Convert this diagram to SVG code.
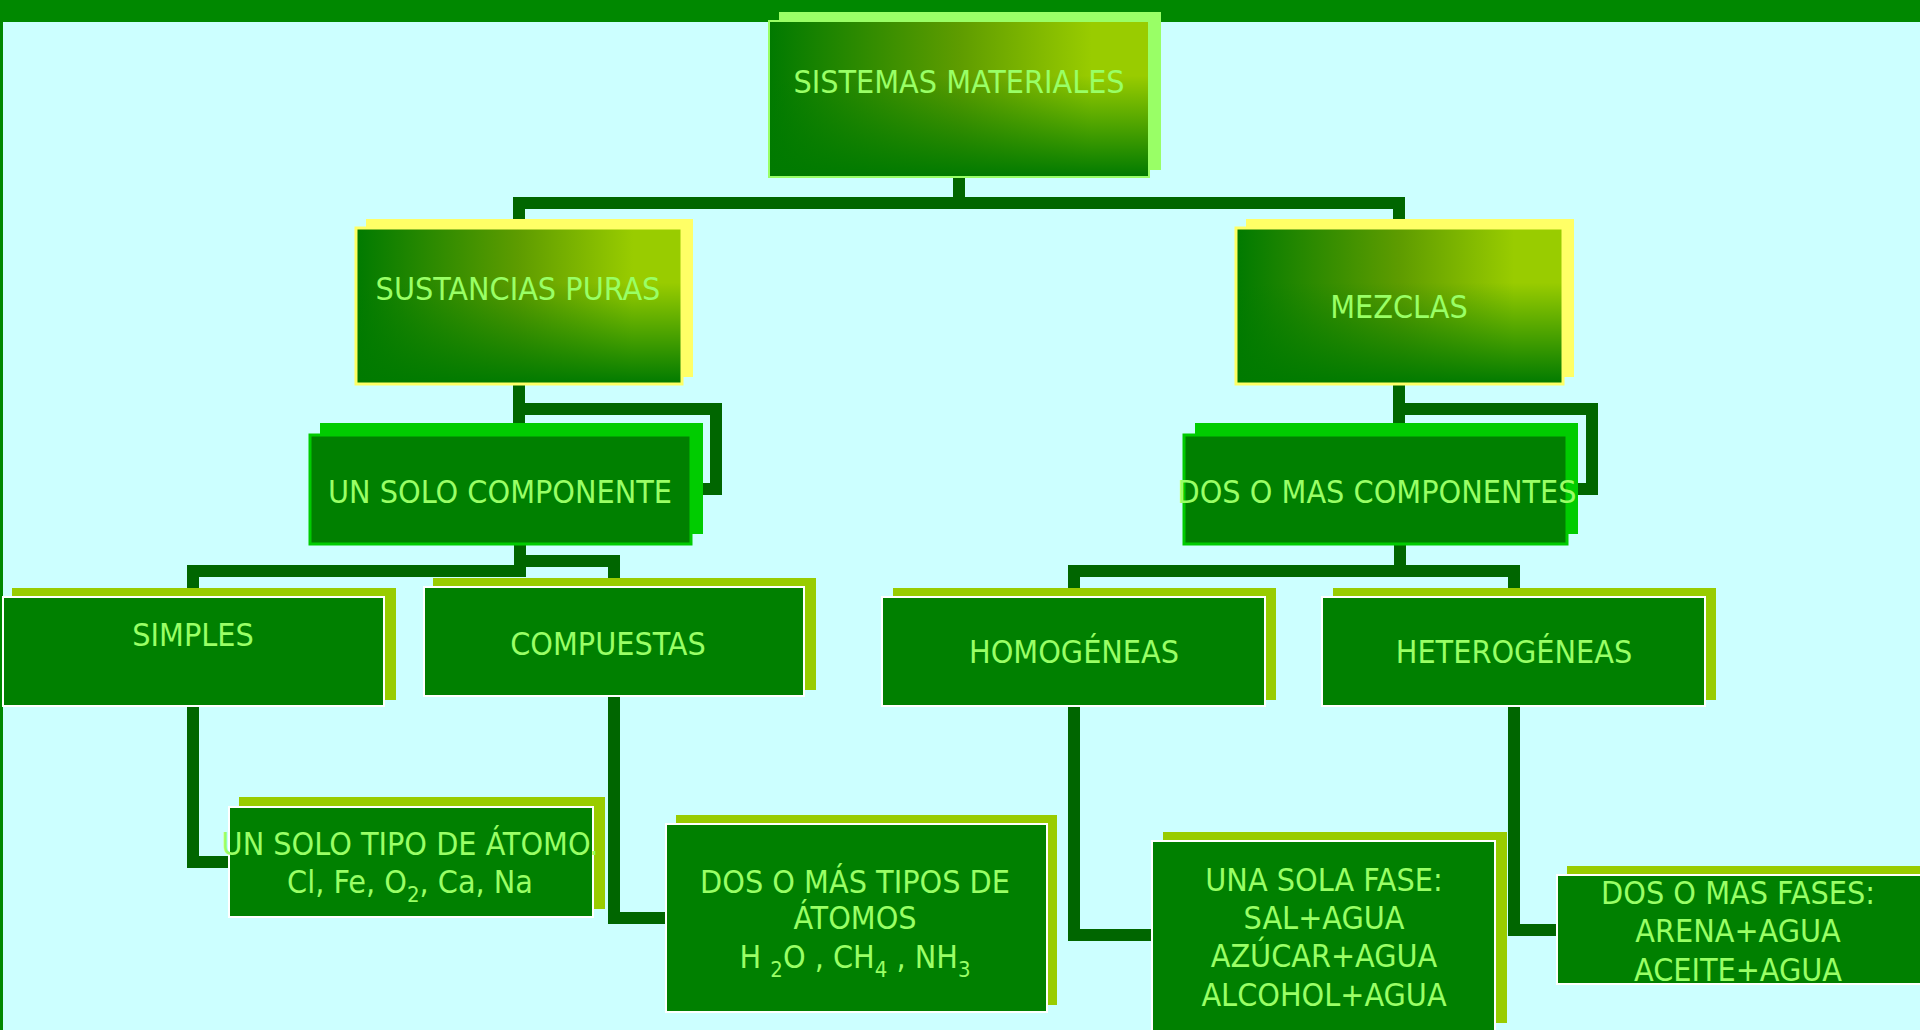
<svg xmlns="http://www.w3.org/2000/svg" width="1920" height="1030" viewBox="0 0 1920 1030">
<defs>
<linearGradient id="gh" x1="0" y1="0" x2="1" y2="0">
<stop offset="0" stop-color="#007A00"/>
<stop offset="0.5" stop-color="#5E9C00"/>
<stop offset="0.85" stop-color="#99CC00"/>
<stop offset="1" stop-color="#99CC00"/>
</linearGradient>
<linearGradient id="gv" x1="0" y1="0" x2="0" y2="1">
<stop offset="0" stop-color="#007A00" stop-opacity="0"/>
<stop offset="0.35" stop-color="#007A00" stop-opacity="0"/>
<stop offset="1" stop-color="#007A00" stop-opacity="1"/>
</linearGradient>
<style>
.t{font-family:'DejaVu Sans Condensed','DejaVu Sans',sans-serif;font-stretch:condensed;font-size:32px;fill:#99FF66;text-anchor:middle}
.sub{font-size:22px}
.c{fill:none;stroke:#006600;stroke-width:12;stroke-linejoin:miter;stroke-linecap:butt}
.gh{fill:url(#gh)}
.gv{fill:url(#gv)}
.sy{fill:#FFFF66}
.sg{fill:#00CC00}
.so{fill:#99CC00}
.dk{fill:#008000;stroke:#FFFFFF;stroke-width:2}
.dg{fill:#008000;stroke:#00CC00;stroke-width:3}
</style>
</defs>
<rect x="0" y="0" width="1920" height="1030" fill="#CCFFFF"/>
<rect x="0" y="0" width="1920" height="22" fill="#008800"/>
<rect x="0" y="0" width="3" height="1030" fill="#008800"/>
<g id="connectors">
<path class="c" d="M959,177 V203"/>
<path class="c" d="M519,219 V203 H1399 V219"/>
<path class="c" d="M519,384 V423"/>
<path class="c" d="M519,384 V409 H716 V489 H703"/>
<path class="c" d="M1399,384 V423"/>
<path class="c" d="M1399,384 V409 H1592 V489 H1578"/>
<path class="c" d="M520,544 V571 H193 V588"/>
<path class="c" d="M520,561 H614 V578"/>
<path class="c" d="M1400,544 V571 H1074 V588"/>
<path class="c" d="M1400,571 H1514 V588"/>
<path class="c" d="M193,706 V862 H229"/>
<path class="c" d="M614,696 V918 H666"/>
<path class="c" d="M1074,706 V935 H1152"/>
<path class="c" d="M1514,706 V930 H1557"/>
</g>
<g id="n-sistemas">
<rect x="779" y="12" width="382" height="158" fill="#99FF66"/>
<rect x="769" y="21" width="380" height="156" class="gh"/>
<rect x="769" y="21" width="380" height="156" class="gv" stroke="#99FF66" stroke-width="2"/>
<text class="t" x="959" y="93">SISTEMAS MATERIALES</text>
</g>
<g id="n-sustancias">
<rect x="366" y="219" width="327" height="158" class="sy"/>
<rect x="356" y="228" width="326" height="156" class="gh"/>
<rect x="356" y="228" width="326" height="156" class="gv" stroke="#FFFF66" stroke-width="3"/>
<text class="t" x="518" y="300">SUSTANCIAS PURAS</text>
</g>
<g id="n-mezclas">
<rect x="1246" y="219" width="328" height="158" class="sy"/>
<rect x="1236" y="228" width="327" height="156" class="gh"/>
<rect x="1236" y="228" width="327" height="156" class="gv" stroke="#FFFF66" stroke-width="3"/>
<text class="t" x="1399" y="318">MEZCLAS</text>
</g>
<g id="n-unsolo">
<rect x="320" y="423" width="383" height="111" class="sg"/>
<rect x="310" y="435" width="381" height="109" class="dg"/>
<text class="t" x="500" y="503">UN SOLO COMPONENTE</text>
</g>
<g id="n-dosomas">
<rect x="1195" y="423" width="383" height="111" class="sg"/>
<rect x="1184" y="435" width="383" height="109" class="dg"/>
<text class="t" x="1377" y="503">DOS O MAS COMPONENTES</text>
</g>
<g id="n-simples">
<rect x="12" y="588" width="384" height="112" class="so"/>
<rect x="3" y="597" width="381" height="109" class="dk"/>
<text class="t" x="193" y="646">SIMPLES</text>
</g>
<g id="n-compuestas">
<rect x="433" y="578" width="383" height="112" class="so"/>
<rect x="424" y="587" width="380" height="109" class="dk"/>
<text class="t" x="608" y="655">COMPUESTAS</text>
</g>
<g id="n-homogeneas">
<rect x="893" y="588" width="383" height="112" class="so"/>
<rect x="882" y="597" width="383" height="109" class="dk"/>
<text class="t" x="1074" y="663">HOMOGÉNEAS</text>
</g>
<g id="n-heterogeneas">
<rect x="1333" y="588" width="383" height="112" class="so"/>
<rect x="1322" y="597" width="383" height="109" class="dk"/>
<text class="t" x="1514" y="663">HETEROGÉNEAS</text>
</g>
<g id="n-unsolotipo">
<rect x="239" y="797" width="366" height="112" class="so"/>
<rect x="229" y="807" width="364" height="110" class="dk"/>
<text class="t" x="410" y="855">UN SOLO TIPO DE ÁTOMO.</text>
<text class="t" x="410" y="893">Cl, Fe, O<tspan class="sub" dy="9">2</tspan><tspan dy="-9">, Ca, Na</tspan></text>
</g>
<g id="n-dosomastipos">
<rect x="676" y="815" width="381" height="190" class="so"/>
<rect x="666" y="824" width="381" height="188" class="dk"/>
<text class="t" x="855" y="893">DOS O MÁS TIPOS DE</text>
<text class="t" x="855" y="929">ÁTOMOS</text>
<text class="t" x="855" y="968">H <tspan class="sub" dy="9">2</tspan><tspan dy="-9">O , CH</tspan><tspan class="sub" dy="9">4</tspan><tspan dy="-9"> , NH</tspan><tspan class="sub" dy="9">3</tspan></text>
</g>
<g id="n-unasolafase">
<rect x="1163" y="832" width="344" height="191" class="so"/>
<rect x="1152" y="841" width="343" height="191" class="dk"/>
<text class="t" x="1324" y="891">UNA SOLA FASE:</text>
<text class="t" x="1324" y="929">SAL+AGUA</text>
<text class="t" x="1324" y="967">AZÚCAR+AGUA</text>
<text class="t" x="1324" y="1006">ALCOHOL+AGUA</text>
</g>
<g id="n-dosomasfases">
<rect x="1567" y="866" width="360" height="110" class="so"/>
<rect x="1557" y="875" width="370" height="109" class="dk"/>
<text class="t" x="1738" y="904">DOS O MAS FASES:</text>
<text class="t" x="1738" y="942">ARENA+AGUA</text>
<text class="t" x="1738" y="981">ACEITE+AGUA</text>
</g>
</svg>
